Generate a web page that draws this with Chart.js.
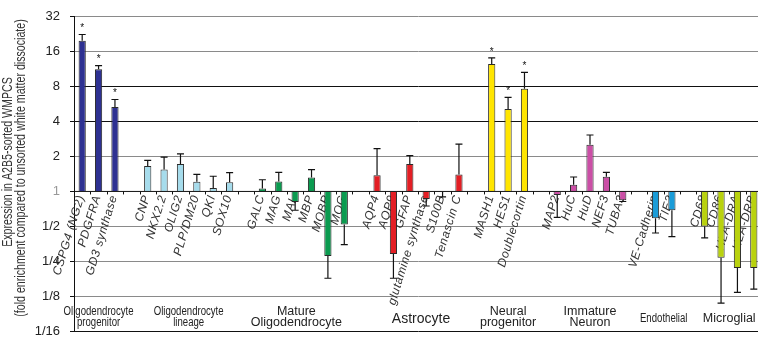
<!DOCTYPE html>
<html>
<head>
<meta charset="utf-8">
<script src="https://cdn.jsdelivr.net/npm/chart.js@4.4.0/dist/chart.umd.min.js"></script>
<style>
html, body { margin: 0; padding: 0; background: #fff; overflow: hidden; }
</style>
</head>
<body>
<canvas id="chart" width="762" height="347"></canvas>
<script>
// gene names, '' = gap between cell-type groups
const genes = ['CSPG4 (NG2)', 'PDGFRA', 'GD3 synthase', '',
    'CNP', 'NKX2.2', 'OLIG2', 'PLP/DM20', 'QKI', 'SOX10', '',
    'GALC', 'MAG', 'MAL', 'MBP', 'MOBP', 'MOG', '',
    'AQP4', 'AQP9', 'GFAP', 'glutamine synthase', 'S100B', 'Tenascin C', '',
    'MASH1', 'HES1', 'Doublecortin', '',
    'MAP2', 'HuC', 'HuD', 'NEF3', 'TUBA3', '',
    'VE-Cadherin', 'TIE2', '',
    'CD68', 'CD86', 'HLA-DRA', 'HLA-DRB'];

// fold enrichment (sorted vs unsorted)
const expression = [19.6, 11.2, 5.3, null,
    1.65, 1.54, 1.72, 1.21, 1.07, 1.20, null,
    1.06, 1.22, 0.81, 1.32, 0.28, 0.52, null,
    1.38, 0.29, 1.72, 0.86, 0.99, 1.40, null,
    12.4, 5.1, 7.6, null,
    0.93, 1.14, 2.51, 1.34, 0.84, null,
    0.59, 0.69, null,
    0.50, 0.27, 0.22, 0.22];

// end of the error bar (same units)
const errorEnd = [22.2, 12.0, 6.15, null,
    1.85, 1.97, 2.10, 1.40, 1.35, 1.45, null,
    1.26, 1.46, 0.69, 1.54, 0.18, 0.35, null,
    2.33, 0.18, 2.03, 0.75, 0.90, 2.55, null,
    14.0, 6.4, 10.5, null,
    0.60, 1.33, 3.05, 1.46, 0.82, null,
    0.44, 0.41, null,
    0.40, 0.11, 0.136, 0.145];

const significant = ['CSPG4 (NG2)', 'PDGFRA', 'GD3 synthase', 'MASH1', 'HES1', 'Doublecortin'];

const groupNames = [['Oligodendrocyte', 'progenitor'], ['Oligodendrocyte', 'lineage'],
    ['Mature', 'Oligodendrocyte'], ['Astrocyte'], ['Neural', 'progenitor'],
    ['Immature', 'Neuron'], ['Endothelial'], ['Microglial']];
const groupFirst = [0, 4, 11, 18, 25, 29, 35, 38];
const groupLast = [2, 9, 16, 23, 27, 33, 36, 41];
const groupColors = ['#2E3192', '#A6DCEC', '#0B9B50', '#E31E24', '#FFE500', '#CB4FA6', '#1A9CD8', '#B9D20E'];

const yTickLabels = ['1/16', '1/8', '1/4', '1/2', '1', '2', '4', '8', '16', '32'];

const barColors = genes.map((g, i) => {
    const k = groupFirst.findIndex((f, j) => i >= f && i <= groupLast[j]);
    return k < 0 ? 'transparent' : groupColors[k];
});

const FONT = '"Liberation Sans", Arial, sans-serif';

const decorations = {
    id: 'decorations',
    beforeDatasetsDraw(chart) {
        const ctx = chart.ctx;
        const x = chart.scales.x, y = chart.scales.y;
        const y0 = y.getPixelForValue(0);
        // gene labels, rotated, hanging under the 1 line
        ctx.save();
        ctx.font = 'italic 12px ' + FONT;
        ctx.letterSpacing = '0.6px';
        ctx.fillStyle = '#333';
        ctx.textAlign = 'right';
        ctx.textBaseline = 'middle';
        genes.forEach((g, i) => {
            if (!g) return;
            ctx.save();
            ctx.translate(x.getPixelForValue(i) - 1, y0 + 4);
            ctx.rotate(-73 * Math.PI / 180);
            ctx.fillText(g, 0, 0);
            ctx.restore();
        });
        ctx.restore();
    },
    afterDatasetsDraw(chart) {
        const ctx = chart.ctx;
        const x = chart.scales.x, y = chart.scales.y;
        const area = chart.chartArea;
        const y0 = y.getPixelForValue(0);
        const step = x.getPixelForValue(1) - x.getPixelForValue(0);

        // baseline at 1 with category ticks
        ctx.save();
        ctx.strokeStyle = '#111';
        ctx.lineWidth = 1;
        ctx.beginPath();
        ctx.moveTo(area.left, y0);
        ctx.lineTo(area.right, y0);
        for (let i = 0; i <= genes.length; i++) {
            const bx = Math.round(x.getPixelForValue(i) - step / 2) + 0.5;
            ctx.moveTo(bx, y0);
            ctx.lineTo(bx, y0 + 3);
        }
        ctx.stroke();

        // error bars + asterisks
        ctx.lineWidth = 1.2;
        ctx.fillStyle = '#111';
        ctx.font = '10px ' + FONT;
        ctx.textAlign = 'center';
        ctx.textBaseline = 'middle';
        genes.forEach((g, i) => {
            if (expression[i] == null) return;
            const cx = x.getPixelForValue(i);
            const yb = y.getPixelForValue(Math.log2(expression[i]));
            const ye = y.getPixelForValue(Math.log2(errorEnd[i]));
            ctx.beginPath();
            ctx.moveTo(cx, yb);
            ctx.lineTo(cx, ye);
            ctx.moveTo(cx - 3.5, ye);
            ctx.lineTo(cx + 3.5, ye);
            ctx.stroke();
            if (significant.includes(g)) {
                ctx.fillText('*', cx, ye - 6);
            }
        });

        // y axis title (narrow face in the original)
        ctx.fillStyle = '#333';
        ctx.font = '14px ' + FONT;
        [['Expression in A2B5-sorted WMPCS', 8, 162],
         ['(fold enrichment compared to unsorted white matter dissociate)', 21, 168]].forEach(([t, tx, ty]) => {
            ctx.save();
            ctx.translate(tx, ty);
            ctx.rotate(-Math.PI / 2);
            ctx.scale(0.76, 1);
            ctx.fillText(t, 0, 0);
            ctx.restore();
        });

        // cell type group labels
        ctx.fillStyle = '#222';
        groupNames.forEach((lines, k) => {
            let cx = (x.getPixelForValue(groupFirst[k]) + x.getPixelForValue(groupLast[k])) / 2;
            let size = 12.5, squeeze = 1;
            if (k === 0 || k === 1 || k === 6) { size = 12; squeeze = 0.8; }
            if (k === 2) cx -= 7;
            if (k === 3) { size = 14; cx += 3; }
            ctx.font = size + 'px ' + FONT;
            lines.forEach((t, j) => {
                const ty = lines.length === 1 ? 319 : 312 + j * 11;
                ctx.save();
                ctx.translate(cx, ty);
                ctx.scale(squeeze, 1);
                ctx.fillText(t, 0, 0);
                ctx.restore();
            });
        });
        ctx.restore();
    }
};

const gridColor = (c) => {
    const v = c.tick.value;
    if (v === 3 || v === 2 || v === -4) return '#111';
    if (v === 0) return 'transparent';
    return '#8a8a8a';
};

new Chart(document.getElementById('chart'), {
    type: 'bar',
    data: {
        labels: genes,
        datasets: [{
            data: expression.map(v => v == null ? null : Math.log2(v)),
            backgroundColor: barColors,
            borderColor: '#2a2a2a',
            borderWidth: 1,
            barPercentage: 0.44,
            categoryPercentage: 1
        }]
    },
    options: {
        responsive: false,
        devicePixelRatio: 1,
        animation: false,
        layout: { padding: { top: 16, bottom: 0, left: 0, right: 0 } },
        plugins: { legend: { display: false }, tooltip: { enabled: false } },
        scales: {
            x: { display: false },
            y: {
                min: -4,
                max: 5,
                afterFit: (scale) => { scale.width = 74; },
                ticks: {
                    stepSize: 1,
                    padding: 10,
                    font: { family: FONT, size: 13, lineHeight: 0.8 },
                    color: (c) => c.tick.value === 0 ? '#999' : '#222',
                    callback: (v) => yTickLabels[v + 4]
                },
                grid: {
                    color: gridColor,
                    tickColor: '#111',
                    tickLength: 4,
                    lineWidth: 1
                },
                border: { color: '#111', width: 1 }
            }
        }
    },
    plugins: [decorations]
});
</script>
</body>
</html>
